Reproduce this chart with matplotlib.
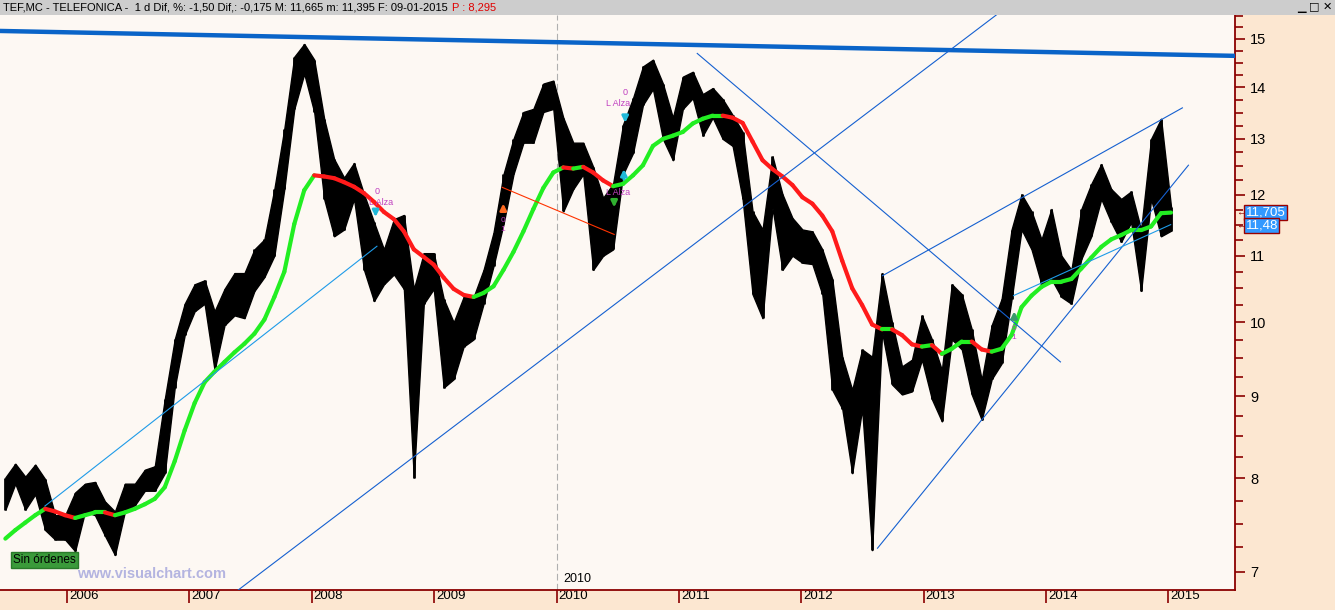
import numpy as np
import pandas as pd
import matplotlib
matplotlib.use("Agg")
import matplotlib.pyplot as plt
import matplotlib.dates as mdates
import matplotlib.transforms as mtransforms
from matplotlib.patches import Rectangle
from matplotlib.ticker import FixedLocator, NullFormatter, FuncFormatter

plt.rcParams['font.family'] = 'Liberation Sans'

# =====================================================
# 1. Data (roughly monthly high / low)
# =====================================================
price_high = [8.01, 8.17, 8.02, 8.16, 7.99, 7.59, 7.59, 7.84, 7.94, 7.96,
              7.74, 7.63, 7.94, 7.94, 8.10, 8.14, 8.96, 9.76, 10.27, 10.56,
              10.62, 10.16, 10.49, 10.73, 10.73, 11.10, 11.26, 12.10, 13.19, 14.62,
              14.89, 14.56, 13.38, 12.63, 12.30, 12.56, 12.01, 11.54, 11.10, 11.59,
              11.66, 10.49, 11.04, 11.04, 10.34, 10.00, 10.37, 10.37, 10.78, 11.37,
              12.36, 13.00, 13.51, 13.57, 14.07, 14.13, 13.40, 12.93, 12.93, 12.49,
              11.95, 12.19, 13.27, 13.78, 14.42, 14.56, 14.07, 13.40, 14.21, 14.31,
              13.86, 13.98, 13.76, 13.45, 13.13, 11.72, 11.42, 12.68, 12.01, 11.61,
              11.42, 11.39, 11.10, 10.64, 9.52, 9.08, 9.62, 9.52, 10.73, 10.00,
              9.39, 9.48, 10.10, 9.76, 9.34, 10.56, 10.41, 9.90, 9.21, 9.96,
              10.34, 11.42, 12.01, 11.72, 11.26, 11.76, 11.00, 10.78, 11.76, 12.19,
              12.54, 12.10, 11.93, 12.06, 11.42, 13.00, 13.38, 11.80]

price_low = [7.65, 7.94, 7.65, 7.82, 7.43, 7.33, 7.33, 7.21, 7.63, 7.59,
             7.37, 7.17, 7.63, 7.70, 7.86, 7.86, 8.06, 9.11, 9.82, 10.16,
             10.27, 9.34, 9.96, 10.10, 10.06, 10.46, 10.67, 11.00, 12.10, 13.57,
             14.27, 13.51, 11.93, 11.31, 11.42, 11.93, 10.78, 10.31, 10.56, 10.71,
             10.49, 8.01, 10.27, 10.49, 9.11, 9.22, 9.66, 9.76, 10.27, 10.84,
             11.51, 12.36, 12.93, 12.93, 13.51, 13.57, 11.72, 12.10, 12.36, 10.78,
             11.00, 11.10, 12.36, 12.74, 13.65, 13.96, 13.00, 12.61, 13.57, 13.78,
             13.06, 13.40, 13.00, 12.87, 11.93, 10.41, 10.06, 11.78, 10.78, 11.00,
             10.89, 10.87, 10.41, 9.08, 8.84, 8.06, 8.84, 7.22, 9.86, 9.15,
             9.02, 9.06, 9.48, 8.96, 8.68, 9.76, 9.62, 9.02, 8.70, 9.22,
             9.43, 10.34, 11.42, 11.10, 10.56, 10.64, 10.37, 10.27, 10.95, 11.31,
             11.93, 11.54, 11.22, 11.54, 10.46, 11.93, 11.31, 11.40]

# smoothed average drawn green (rising) / red (falling)
ma_values = [7.34, 7.43, 7.51, 7.59, 7.66, 7.63, 7.59, 7.56, 7.59, 7.62,
             7.62, 7.59, 7.62, 7.66, 7.71, 7.77, 7.90, 8.20, 8.57, 8.91,
             9.18, 9.32, 9.45, 9.58, 9.70, 9.84, 10.04, 10.37, 10.75, 11.51,
             12.08, 12.34, 12.32, 12.29, 12.22, 12.14, 12.03, 11.88, 11.71, 11.59,
             11.39, 11.10, 10.98, 10.86, 10.66, 10.49, 10.40, 10.37, 10.43, 10.53,
             10.78, 11.06, 11.39, 11.76, 12.12, 12.39, 12.48, 12.46, 12.49, 12.39,
             12.25, 12.15, 12.19, 12.34, 12.52, 12.87, 13.00, 13.06, 13.13, 13.29,
             13.38, 13.44, 13.44, 13.40, 13.30, 12.95, 12.61, 12.45, 12.32, 12.17,
             11.96, 11.85, 11.65, 11.39, 10.92, 10.50, 10.25, 9.97, 9.90, 9.90,
             9.82, 9.69, 9.66, 9.68, 9.56, 9.63, 9.73, 9.73, 9.62, 9.59,
             9.63, 9.82, 10.22, 10.39, 10.52, 10.60, 10.60, 10.64, 10.80, 10.97,
             11.14, 11.26, 11.33, 11.41, 11.41, 11.47, 11.69, 11.70]

dates = pd.date_range("2005-07-01", "2015-01-09", periods=len(price_high))

ma_last = 11.705
close_last = 11.48

# hand drawn lines: start date, start price, end date, end price
resistance_line = ("2005-06-15", 15.17, "2015-07-14", 14.64)
support_2006 = ("2005-10-27", 7.69, "2008-07-14", 11.15)
long_trend = ("2007-05-23", 6.81, "2013-08-09", 15.54)
down_trend = ("2011-02-25", 14.69, "2014-02-13", 9.45)
channel_top = ("2012-08-31", 10.69, "2015-02-12", 13.59)
channel_bottom = ("2012-08-16", 7.24, "2015-03-02", 12.52)
support_2014 = ("2013-09-26", 10.39, "2015-01-08", 11.50)
order_line = ("2009-07-23", 12.13, "2010-06-22", 11.34)

year_ticks = list(range(2006, 2016))
price_ticks = list(range(7, 16))

# =====================================================
# 2. Figure and panels
# =====================================================
W, H = 1335, 610
fig = plt.figure(figsize=(W / 100, H / 100), dpi=100)
fig.patch.set_facecolor('#fce7d1')
fig.add_artist(Rectangle((0, 1 - 15 / H), 1, 15 / H, transform=fig.transFigure,
                         facecolor='#cdcdcd', edgecolor='none'))

ax = fig.add_axes([0, 20 / H, 1235 / W, 575 / H])
ax.set_facecolor('#fdf8f3')

# price range band + bars
ax.fill_between(dates, price_low, price_high, color='black', lw=1.0, zorder=3)
ax.vlines(dates, price_low, price_high, color='black', lw=2.0, zorder=3)

# coloured average
for i in range(len(ma_values) - 1):
    col = '#22ee22' if ma_values[i + 1] >= ma_values[i] else '#ff1a1a'
    ax.plot(dates[i:i + 2], ma_values[i:i + 2], color=col, lw=3.0,
            solid_capstyle='round', zorder=4)


def draw_line(seg, color, lw, z=5):
    ax.plot([pd.Timestamp(seg[0]), pd.Timestamp(seg[2])], [seg[1], seg[3]],
            color=color, lw=lw, zorder=z)


draw_line(resistance_line, '#0a64c8', 3.2)
draw_line(support_2006, '#1e9be8', 0.8)
draw_line(long_trend, '#1560d0', 0.8)
draw_line(down_trend, '#1560d0', 0.8)
draw_line(channel_top, '#1560d0', 0.8)
draw_line(channel_bottom, '#1560d0', 0.8)
draw_line(support_2014, '#1e9be8', 0.8)
draw_line(order_line, '#ff3300', 0.8)

# 2010 marker
ax.axvline(pd.Timestamp("2010-01-01"), color='#b0b0b0', lw=0.8, ls=(0, (6, 3)), zorder=1)
ax.text(pd.Timestamp("2010-01-20"), 6.87, "2010", fontsize=9, ha='left', va='bottom',
        color='black')

# signal markers
sig_col = '#c040c0'


def arrow(date, p_tail, p_tip, color):
    ax.annotate('', xy=(pd.Timestamp(date), p_tip), xytext=(pd.Timestamp(date), p_tail),
                arrowprops=dict(arrowstyle='-|>', color=color, lw=2, mutation_scale=9),
                zorder=6)


def label(date, price, s, size=6.5):
    ax.text(pd.Timestamp(date), price, s, color=sig_col, fontsize=size,
            ha='center', va='center', zorder=6)


label("2008-07-14", 12.05, "0")
label("2008-07-26", 11.87, "L Alza")
arrow("2008-07-10", 11.78, 11.58, '#20b8d8')

label("2010-07-25", 13.90, "0")
label("2010-07-04", 13.68, "L Alza")
arrow("2010-07-25", 13.50, 13.25, '#20b8d8')

arrow("2009-07-26", 11.68, 11.90, '#ff6a20')
label("2009-07-24", 11.56, "0", 6)
label("2009-07-24", 11.42, "1", 6)

arrow("2010-07-21", 12.22, 12.50, '#20b8d8')
label("2010-07-04", 12.04, "L Alza")
arrow("2010-06-22", 11.96, 11.74, '#30b030')

arrow("2013-09-28", 10.00, 10.20, '#3a9a6a')
label("2013-09-28", 9.91, "0", 6)
label("2013-09-28", 9.79, "1", 6)

# =====================================================
# 3. Axes styling
# =====================================================
ax.set_yscale('log')
ax.set_ylim(6.82, 15.52)
ax.set_xlim(pd.Timestamp("2005-06-15"), pd.Timestamp("2015-07-19"))

ax.yaxis.set_major_locator(FixedLocator(price_ticks))
ax.yaxis.set_major_formatter(FuncFormatter(lambda v, p: f"{v:.0f}"))
minor = [v for v in np.arange(6.75, 15.6, 0.25) if abs(v - round(v)) > 0.01]
ax.yaxis.set_minor_locator(FixedLocator(minor))
ax.yaxis.set_minor_formatter(NullFormatter())
ax.yaxis.tick_right()

ax.set_xticks([pd.Timestamp(f"{y}-01-01") for y in year_ticks])
ax.xaxis.set_major_formatter(mdates.DateFormatter('%Y'))
ax.xaxis.set_minor_locator(FixedLocator([]))

for s in ['left', 'top']:
    ax.spines[s].set_visible(False)
for s in ['right', 'bottom']:
    ax.spines[s].set_color('#8b0000')
    ax.spines[s].set_linewidth(1.3)

ax.tick_params(axis='y', which='major', direction='out', length=7, width=1.2,
               color='#8b0000', labelsize=10.5, labelcolor='black', pad=4)
ax.tick_params(axis='y', which='minor', direction='out', length=6, width=1.2,
               color='#8b0000')
ax.tick_params(axis='x', which='major', direction='out', length=9, width=1.2,
               color='#8b0000', labelsize=9.5, labelcolor='black', pad=-9)
for lab in ax.get_xticklabels():
    lab.set_horizontalalignment('left')
    lab.set_transform(lab.get_transform() + mtransforms.ScaledTranslation(2 / 100, 0, fig.dpi_scale_trans))

# right panel price boxes
trans = mtransforms.blended_transform_factory(ax.transAxes, ax.transData)
for val, txt in [(ma_last, "11,705"), (close_last, "11,48")]:
    ax.text(1.0085, val, txt, transform=trans, color='white', fontsize=9.5,
            ha='left', va='center', clip_on=False, zorder=8,
            bbox=dict(boxstyle='square,pad=0.12', facecolor='#3399ff', edgecolor='#990000', lw=1))
    ax.text(1.001, val, "\u2190", transform=trans, color='#8b0000', fontsize=7,
            ha='left', va='center', clip_on=False, zorder=8)

# badges
ax.text(0.0105, 0.052, "Sin \u00f3rdenes", transform=ax.transAxes, fontsize=8.5,
        color='black', va='center', ha='left', zorder=8,
        bbox=dict(boxstyle='square,pad=0.2', facecolor='#3a9a3a', edgecolor='#2a7a2a'))
ax.text(0.062, 0.028, "www.visualchart.com", transform=ax.transAxes, fontsize=10.5,
        fontweight='bold', color='#b4b4e0', va='center', ha='left', zorder=8)

# header
fig.text(3 / W, 1 - 8 / H,
         "TEF,MC - TELEFONICA -  1 d Dif, %: -1,50 Dif,: -0,175 M: 11,665 m: 11,395 F: 09-01-2015",
         fontsize=8, va='center', ha='left', color='black')
fig.text(452 / W, 1 - 8 / H, "P : 8,295", fontsize=8, va='center', ha='left', color='#e00000')
fig.text(1297 / W, 1 - 8 / H, "\u2581 \u25a1 \u2715", fontsize=8, va='center', ha='left',
         color='black', family='DejaVu Sans')

fig.savefig("out.png", dpi=100, facecolor=fig.get_facecolor())
